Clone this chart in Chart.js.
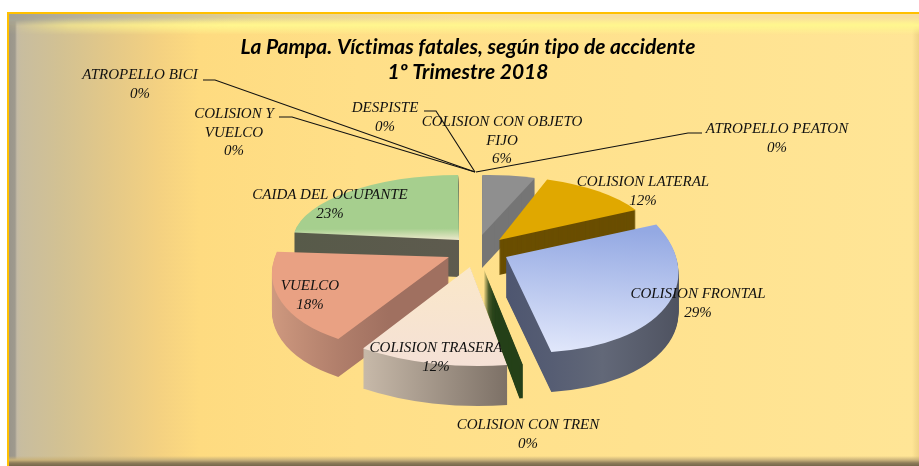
<!DOCTYPE html>
<html><head><meta charset="utf-8">
<style>
html,body{margin:0;padding:0;background:#fff;width:919px;height:466px;overflow:hidden}
#frame{position:absolute;left:7px;top:12px;width:912px;height:454px;box-sizing:border-box;
border-left:2px solid #FFC000;border-top:2px solid #FFC000;
background:
 linear-gradient(to top,#75664a 0,#8e7c58 3px,#c9b27a 6px,rgba(255,226,140,0) 10px),
 linear-gradient(to left,rgba(236,206,130,.8) 0,rgba(240,212,135,.5) 4px,rgba(255,229,150,0) 7px),
 linear-gradient(to right,#9a958a 0,#9f9a8e 6px,#c4baa5 8px,#c8bd9f 12px,#d2c193 50px,#e3c888 100px,#f4d181 150px,#fedb80 190px,#ffdf88 350px,#ffe596 905px);}
#topshade{position:absolute;left:9px;top:14px;width:910px;height:14px;
background:linear-gradient(to right,#a3a195 0,#bcb49c 90px,#e4d292 250px,#f8de9c 450px);
-webkit-mask-image:linear-gradient(to bottom,#000 0,#000 6px,transparent 12px);
mask-image:linear-gradient(to bottom,#000 0,#000 6px,transparent 12px);}
#topband{position:absolute;left:9px;top:14px;width:910px;height:22px;
background:linear-gradient(to bottom,rgba(255,246,143,0) 3px,rgba(255,246,143,1) 11px,rgba(255,246,143,.75) 14px,rgba(255,226,140,0) 21px);
-webkit-mask-image:linear-gradient(to right,rgba(0,0,0,.1) 10px,rgba(0,0,0,.55) 60px,#000 220px);
mask-image:linear-gradient(to right,rgba(0,0,0,.1) 10px,rgba(0,0,0,.55) 60px,#000 220px);}
#wrap{position:absolute;left:0;top:0;width:919px;height:466px}
</style>
<script src="https://cdn.jsdelivr.net/npm/chart.js@4"></script>
</head><body>
<div id="frame"></div>
<div id="topshade"></div>
<div id="topband"></div>
<div id="wrap"><canvas id="c" width="919" height="466"></canvas></div>
<script>
const categories = ["ATROPELLO PEATON","COLISION LATERAL","COLISION FRONTAL","COLISION CON TREN","COLISION TRASERA","VUELCO","CAIDA DEL OCUPANTE","COLISION Y\nVUELCO","ATROPELLO BICI","DESPISTE","COLISION CON OBJETO\nFIJO"];
const values = [0,12,29,0.3,12,18,23,0,0,0,6];
const titleLines = ["La Pampa. Víctimas fatales, según tipo de accidente","1º Trimestre 2018"];

// Rotation so the slices start with COLISION LATERAL just after OBJETO FIJO
const rotationDeg = 21.6;
// Style only: face colours, wall colours, pseudo-3D projection per slice
const faces = {1:['#E0A800'],2:['#94A9E3','#E2E8FB'],3:['#254019'],4:['#FCEAC4','#F5E1D6'],5:['#E9A183'],6:['#A6CF8E','#A6CF8E','#EDE8CC'],10:['#8F8F8F']};
const walls = {1:['#6A4E00'],2:['#4E5670','#626878','#4E5260'],3:['#254019'],4:['#C6B8A8','#7A6E64'],5:['#D09A80','#A07060'],6:['#575A49','#655C54'],10:['#757575']};
const proj = {6:[459,240,166,-1,1,65,37],10:[482,235,144,-3,0,60,33],1:[499,240,156,-3,10,64,35],5:[449,257,176,-7,-18,93,38],2:[506,257,172,9,12,95,40],4:[470,267,200,3,2,99,40],3:[484,270,190,0,2,97,33]};
const drawOrder = [6,10,1,5,2,4,3];
// Label placement
const labelSpots = {0:[777,129],1:[643,182],2:[698,294],3:[528,425],4:[436,348],5:[310,286],6:[330,195],7:[234,114],8:[140,75],9:[385,108],10:[502,122]};
const labelStep = 18.7;
const leaders = [[[203,80],[215,80],[475,172]],[[279,117],[292,117],[475,172]],[[424,111],[436,111],[475,172]],[[702,133],[688,133],[476,172]]];

function drawSlice(ctx,arc,m,dy,fill){
  const R=arc.outerRadius, o=arc.options, p=Object.create(o);
  p.backgroundColor=fill; p.borderWidth=0;
  ctx.save();
  ctx.translate(m[0],m[1]+dy);
  ctx.transform(m[2]/R,m[3]/R,m[4]/R,m[5]/R,0,0);
  ctx.translate(-arc.x,-arc.y);
  arc.options=p; arc.draw(ctx); arc.options=o;
  ctx.restore();
}
function faceFill(ctx,arc,i){
  const R=arc.outerRadius,c=faces[i];
  if(c.length===1) return c[0];
  // gradients are evaluated in slice-local space
  const g=ctx.createLinearGradient(0,arc.y-R,0,arc.y);
  if(i===2||i===4){const g2=ctx.createLinearGradient(0,arc.y-R*0.35,0,arc.y+R);g2.addColorStop(0,c[0]);g2.addColorStop(1,c[1]);return g2;}
  g.addColorStop(0,c[0]);g.addColorStop(.82,c[1]);g.addColorStop(1,c[2]);return g;
}
function wallFill(ctx,arc,i){
  const R=arc.outerRadius,c=walls[i];
  if(c.length===1) return c[0];
  let x0=arc.x-R,x1=arc.x+R;
  if(i===4){x0=arc.x-R*0.53;x1=arc.x+R*0.2;}
  if(i===5){x0=arc.x-R;x1=arc.x-R*0.3;}
  if(i===2){x0=arc.x;x1=arc.x+R;}
  const g=ctx.createLinearGradient(x0,0,x1,0);
  c.forEach((k,n)=>g.addColorStop(n/(c.length-1),k));
  return g;
}
const pie3d={id:'pie3d',
  beforeDraw(chart){ chart.ctx.fontVariantCaps='normal'; chart.ctx.textRendering='optimizeSpeed'; },
  beforeDatasetsDraw(chart){
    const ctx=chart.ctx, arcs=chart.getDatasetMeta(0).data;
    drawOrder.forEach(i=>{
      const arc=arcs[i],m=proj[i];
      const w=wallFill(ctx,arc,i);
      for(let d=m[6];d>=1;d--) drawSlice(ctx,arc,m,d,w);
      drawSlice(ctx,arc,m,0,faceFill(ctx,arc,i));
    });
    return false;
  },
  afterDraw(chart){
    const ctx=chart.ctx;
    ctx.save();
    ctx.strokeStyle='#111';ctx.lineWidth=1.1;
    leaders.forEach(l=>{ctx.beginPath();l.forEach((p,n)=>n?ctx.lineTo(p[0],p[1]):ctx.moveTo(p[0],p[1]));ctx.stroke();});
    ctx.fillStyle='#111';ctx.font='italic 15px "Liberation Serif"';ctx.textAlign='center';ctx.textBaseline='middle';
    categories.forEach((name,i)=>{
      const lines=name.split('\n').concat(Math.round(values[i])+'%');
      const s=labelSpots[i];
      lines.forEach((t,n)=>ctx.fillText(t,s[0],s[1]+n*labelStep));
    });
    ctx.restore();
  }
};
new Chart(document.getElementById('c'),{
  type:'pie',
  data:{labels:categories,datasets:[{data:values,backgroundColor:'#999',borderWidth:0}]},
  options:{
    responsive:false,animation:false,
    rotation:rotationDeg,
    layout:{padding:{left:17,top:35,bottom:10}},
    plugins:{
      legend:{display:false},tooltip:{enabled:false},
      title:{display:true,text:titleLines,color:'#000',padding:{top:0,bottom:10},
        font:{family:'Lato',size:21,weight:'bold',style:'italic',lineHeight:1.19}}
    }
  },
  plugins:[pie3d]
});
</script>
</body></html>
